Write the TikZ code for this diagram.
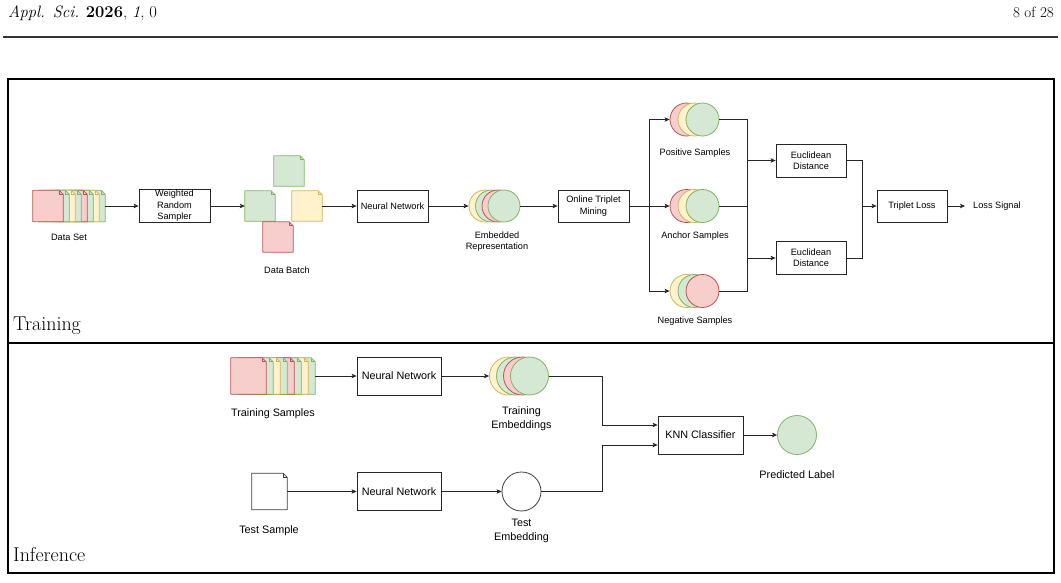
\documentclass[tikz,border=0pt]{standalone}
\usepackage{fontspec}
\setsansfont{Liberation Sans}
\usepackage{tikz}
\usetikzlibrary{arrows.meta,calc}
\definecolor{grnfill}{HTML}{D5E8D4}
\definecolor{grnline}{HTML}{82B366}
\definecolor{redfill}{HTML}{F8CECC}
\definecolor{redline}{HTML}{B85450}
\definecolor{yelfill}{HTML}{FFF2CC}
\definecolor{yelline}{HTML}{D6B656}
\newcommand{\trainfont}{\sffamily\fontsize{9.2}{11.4}\selectfont}
\newcommand{\inferfont}{\sffamily\fontsize{10.8}{14}\selectfont}
% a sheet of paper with a folded corner: name, centre, width, height, colour style
\newcommand{\sheet}[5]{%
  \node[sheetbox,minimum width=#3,minimum height=#4] (#1) at (#2) {};
  \filldraw[#5,line join=round] (#1.south west) -- (#1.north west) -- ([xshift=-4pt]#1.north east)
     -- ([yshift=-4pt]#1.north east) -- (#1.south east) -- cycle;
  \draw[#5,fill=none] ([xshift=-4pt]#1.north east) -- ([xshift=-4pt,yshift=-4pt]#1.north east)
     -- ([yshift=-4pt]#1.north east);}

\begin{document}
\begin{tikzpicture}[x=1pt,y=-1pt,
   proc/.style={draw=black!85,fill=white,line width=0.8pt,align=center,inner sep=1pt,font=\trainfont},
   iproc/.style={proc,font=\inferfont},
   sheetbox/.style={inner sep=0pt,draw=none},
   blob/.style={circle,inner sep=0pt},
   redc/.style={draw=redline,fill=redfill,line width=0.8pt},
   grnc/.style={draw=grnline,fill=grnfill,line width=0.8pt},
   yelc/.style={draw=yelline,fill=yelfill,line width=0.8pt},
   whtc/.style={draw=black!75,fill=white,line width=0.8pt},
   lbl/.style={font=\trainfont,align=center,inner sep=0pt},
   ilbl/.style={font=\inferfont,align=center,inner sep=0pt},
   wire/.style={line width=0.8pt,draw=black!85},
   arr/.style={wire,-{Stealth[length=5pt,width=4.5pt,inset=1.2pt]}},
   panel/.style={line width=1.5pt,draw=black},
   tag/.style={font=\fontsize{20}{24}\selectfont,anchor=base west,inner sep=0pt}]
  \useasboundingbox (0,0) rectangle (1061,582);

  % page head
  \node[anchor=base west,inner sep=0pt,font=\fontsize{16.5}{19}\selectfont] (journal) at (8,17)
        {\textit{Appl. Sci.} \textbf{2026}, \textit{1}, 0};
  \node[anchor=base east,inner sep=0pt,font=\fontsize{15}{18}\selectfont] (page) at (1054,17) {8 of 28};
  \draw[line width=2pt,black!80] (3,37) -- (1058,37);

  % panels
  \draw[panel] (8,79) rectangle (1054,343);
  \draw[panel] (8,343) rectangle (1054,573);
  \node[tag] (ttrain) at (13,330) {Training};
  \node[tag] (tinfer) at (13,561) {Inference};

  % training: data set stack
  \foreach \i/\c in {7/grnc,6/yelc,5/grnc,4/redc,3/grnc,2/yelc,1/grnc}
    \sheet{ds\i}{48+6*\i,206}{30pt}{31pt}{\c};
  \sheet{ds0}{48,206}{30pt}{31pt}{redc};
  \node[lbl] (dslbl) at (69,237) {Data Set};

  \node[proc,minimum width=71pt,minimum height=33pt] (wrs) at (174.5,206) {Weighted\\Random\\Sampler};

  % data batch
  \sheet{db0}{289,171}{30pt}{30pt}{grnc};
  \sheet{db1}{260,206}{30pt}{30pt}{grnc};
  \sheet{db3}{307,206}{30pt}{30pt}{yelc};
  \sheet{db2}{278,237}{30pt}{30pt}{redc};
  \node[lbl] (dblbl) at (287,270.5) {Data Batch};

  \node[proc,minimum width=71pt,minimum height=32pt] (nn1) at (392.5,206) {Neural Network};

  \foreach \n/\x/\c in {1/485/yelc,2/491.5/grnc,3/498/redc,4/504/grnc}
    \node[blob,\c,minimum size=32pt] (emb\n) at (\x,206) {};
  \node[lbl] (emblbl) at (497,241.5) {Embedded\\Representation};

  \node[proc,minimum width=71pt,minimum height=32pt] (otm) at (593.5,206) {Online Triplet\\Mining};

  % triplets
  \foreach \n/\x/\c in {1/686.5/redc,2/694.5/yelc,3/702.5/grnc}
    \node[blob,\c,minimum size=33pt] (pos\n) at (\x,119.5) {};
  \foreach \n/\x/\c in {1/686.5/redc,2/694.5/yelc,3/702.5/grnc}
    \node[blob,\c,minimum size=33pt] (anc\n) at (\x,206) {};
  \foreach \n/\x/\c in {1/686.5/yelc,2/694.5/grnc,3/702.5/redc}
    \node[blob,\c,minimum size=33pt] (neg\n) at (\x,291) {};
  \node[lbl] (poslbl) at (695,153) {Positive Samples};
  \node[lbl] (anclbl) at (695,236) {Anchor Samples};
  \node[lbl] (neglbl) at (695,321) {Negative Samples};

  \node[proc,minimum width=70pt,minimum height=33pt] (ed1) at (811,160.5) {Euclidean\\Distance};
  \node[proc,minimum width=70pt,minimum height=33pt] (ed2) at (811,258) {Euclidean\\Distance};
  \node[proc,minimum width=70pt,minimum height=32pt] (tl) at (912,206) {Triplet Loss};
  \node[lbl,inner xsep=8pt,anchor=west] (ls) at (965,206) {Loss Signal};

  \draw[arr] (ds7) -- (wrs);
  \draw[arr] (wrs) -- (db1);
  \draw[arr] (db3) -- (nn1);
  \draw[arr] (nn1) -- (emb1);
  \draw[arr] (emb4) -- (otm);
  \coordinate (br) at (649,206);
  \draw[wire] (otm) -- (br);
  \draw[arr] (br) |- (pos1);
  \draw[arr] (br) -- (anc1);
  \draw[arr] (br) |- (neg1);
  \coordinate (ja) at (747,206);
  \draw[wire] (pos3) -| (ja);
  \draw[wire] (anc3) -- (ja);
  \draw[wire] (neg3) -| (ja);
  \draw[arr] (ed1 -| ja) -- (ed1);
  \draw[arr] (ed2 -| ja) -- (ed2);
  \coordinate (jl) at (862,206);
  \draw[wire] (ed1) -| (jl);
  \draw[wire] (ed2) -| (jl);
  \draw[arr] (jl) -- (tl);
  \draw[arr] (tl) -- (ls);

  % inference
  \foreach \i/\c in {7/grnc,6/yelc,5/grnc,4/redc,3/grnc,2/yelc,1/grnc}
    \sheet{tsm\i}{248.5+7*\i,376}{35pt}{36pt}{\c};
  \sheet{tsm0}{248.5,376}{35pt}{36pt}{redc};
  \node[ilbl] (tsmlbl) at (273,414) {Training Samples};

  \node[iproc,minimum width=84pt,minimum height=38pt] (nn2) at (399,376) {Neural Network};
  \foreach \n/\x/\c in {1/508.5/yelc,2/515.5/grnc,3/522.5/redc,4/529.5/grnc}
    \node[blob,\c,minimum size=38pt] (te\n) at (\x,376) {};
  \node[ilbl] (telbl) at (521.5,419) {Training\\Embeddings};

  \sheet{tsp}{269.5,491.5}{35pt}{36pt}{whtc};
  \node[ilbl] (tsplbl) at (269,531) {Test Sample};
  \node[iproc,minimum width=84pt,minimum height=38pt] (nn3) at (399,491.5) {Neural Network};
  \node[blob,whtc,minimum size=39pt] (tse) at (521.5,491.5) {};
  \node[ilbl] (tselbl) at (521.5,531.3) {Test\\Embedding};

  \node[iproc,minimum width=85pt,minimum height=38pt] (knn) at (700.5,435) {KNN Classifier};
  \node[blob,grnc,minimum size=39pt] (pred) at (797,435) {};
  \node[ilbl] (predlbl) at (797,475) {Predicted Label};

  \coordinate (jk) at (602,435);
  \coordinate (kin1) at ([yshift=10pt]knn.west);
  \coordinate (kin2) at ([yshift=-10pt]knn.west);
  \draw[arr] (tsm7) -- (nn2);
  \draw[arr] (nn2) -- (te1);
  \draw[arr] (te4) -- (te4 -| jk) |- (kin1);
  \draw[arr] (tsp) -- (nn3);
  \draw[arr] (nn3) -- (tse);
  \draw[arr] (tse) -- (tse -| jk) |- (kin2);
  \draw[arr] (knn) -- (pred);
\end{tikzpicture}
\end{document}
